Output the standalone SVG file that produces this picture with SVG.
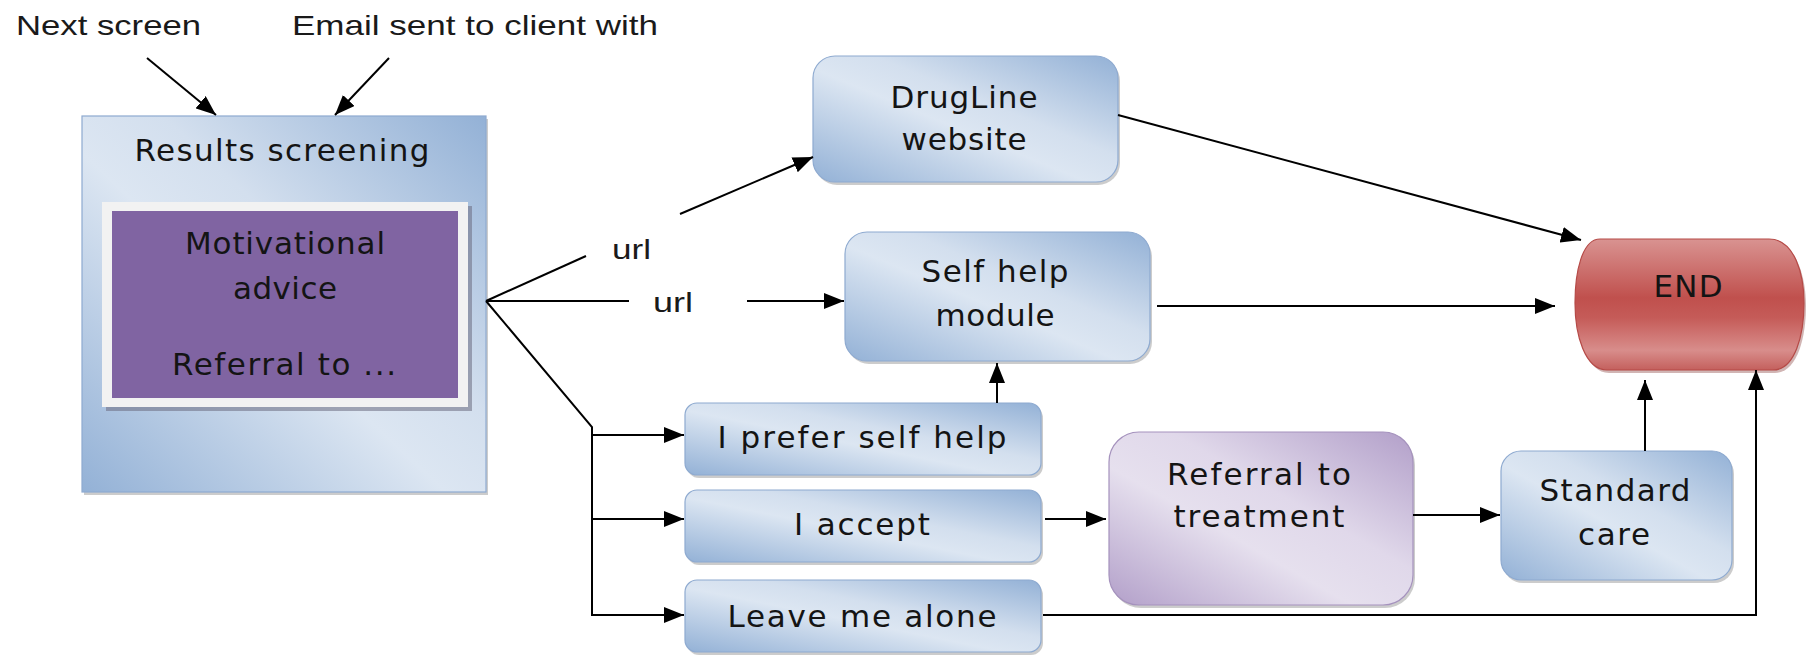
<svg xmlns="http://www.w3.org/2000/svg" width="1810" height="655" viewBox="0 0 1810 655">
<style>
.lbl{font-family:"Liberation Sans",Arial,sans-serif;font-size:28px;fill:#1a1a1a}
.nt{font-family:"DejaVu Sans",Verdana,sans-serif;font-size:31px;fill:#141414;text-anchor:middle}
.box{fill:url(#gBlue);stroke:#8eaad0;stroke-width:1.2}
.shd{fill:#8d8d8d;opacity:.45}
.ln{fill:none;stroke:#000;stroke-width:2}
.arr{fill:none;stroke:#000;stroke-width:2;marker-end:url(#ah)}
</style>
<defs>
<linearGradient id="gBlue" x1="0" y1="1" x2="1" y2="0">
<stop offset="0" stop-color="#93b1d6"/>
<stop offset="0.45" stop-color="#dce6f2"/>
<stop offset="0.6" stop-color="#d3dfee"/>
<stop offset="1" stop-color="#93b1d6"/>
</linearGradient>
<linearGradient id="gPurple" x1="0" y1="1" x2="1" y2="0">
<stop offset="0" stop-color="#b29fc9"/>
<stop offset="0.4" stop-color="#e6e0ee"/>
<stop offset="0.6" stop-color="#e0d8ea"/>
<stop offset="1" stop-color="#b29fc9"/>
</linearGradient>
<linearGradient id="gRed" x1="0" y1="0" x2="0" y2="1">
<stop offset="0" stop-color="#d99391"/>
<stop offset="0.45" stop-color="#c0504d"/>
<stop offset="0.6" stop-color="#c55b58"/>
<stop offset="0.85" stop-color="#d88d8b"/>
<stop offset="1" stop-color="#c4605d"/>
</linearGradient>
<marker id="ah" markerUnits="userSpaceOnUse" markerWidth="20" markerHeight="16" viewBox="0 0 20 16" refX="20" refY="8" orient="auto">
<path d="M0,0 L20,8 L0,16 z" fill="#000"/>
</marker>
</defs>
<rect width="1810" height="655" fill="#fff"/>

<g id="label-next"><text class="lbl" x="16" y="35" textLength="185" lengthAdjust="spacingAndGlyphs">Next screen</text></g>
<g id="label-email"><text class="lbl" x="292" y="35" textLength="366" lengthAdjust="spacingAndGlyphs">Email sent to client with</text></g>

<g id="results">
<rect class="shd" x="84" y="119" width="404" height="376"/>
<rect class="box" x="82" y="116" width="404" height="376"/>
<text class="nt" x="282" y="161" textLength="295" lengthAdjust="spacing">Results screening</text>
<rect x="106" y="206" width="366" height="205" fill="#6b6b80" opacity=".55"/>
<rect x="102" y="202" width="366" height="205" fill="#f2f2f2"/>
<rect x="112" y="211" width="346" height="187" fill="#8064a2"/>
<text class="nt" x="285" y="254" textLength="200" lengthAdjust="spacing">Motivational</text>
<text class="nt" x="285" y="299" textLength="104" lengthAdjust="spacing">advice</text>
<text class="nt" x="284" y="375" textLength="224" lengthAdjust="spacing">Referral to ...</text>
</g>

<g id="drugline">
<rect class="shd" x="815" y="59" width="305" height="126" rx="22"/>
<rect class="box" x="813" y="56" width="305" height="126" rx="22"/>
<text class="nt" x="964" y="108" textLength="147" lengthAdjust="spacing">DrugLine</text>
<text class="nt" x="964" y="150" textLength="125" lengthAdjust="spacing">website</text>
</g>

<g id="selfhelp">
<rect class="shd" x="847" y="235" width="305" height="129" rx="22"/>
<rect class="box" x="845" y="232" width="305" height="129" rx="22"/>
<text class="nt" x="995" y="282" textLength="147" lengthAdjust="spacing">Self help</text>
<text class="nt" x="995" y="326" textLength="119" lengthAdjust="spacing">module</text>
</g>

<g id="end">
<path d="M1602,242 H1771 C1797,242 1806,278 1806,306 C1806,338 1797,373 1775,373 H1609 C1587,373 1577,338 1577,306 C1577,275 1584,242 1602,242 Z" fill="#9a5a58" opacity=".45"/>
<path d="M1600,239 H1769 C1795,239 1804,275 1804,303 C1804,335 1795,370 1773,370 H1607 C1585,370 1575,335 1575,303 C1575,272 1582,239 1600,239 Z" fill="url(#gRed)" stroke="#b54a47" stroke-width="1.2"/>
<text class="nt" x="1688" y="297" font-size="28" textLength="69" lengthAdjust="spacing">END</text>
</g>

<g id="prefer">
<rect class="shd" x="687" y="406" width="356" height="72" rx="12"/>
<rect class="box" x="685" y="403" width="356" height="72" rx="12"/>
<text class="nt" x="862" y="448" textLength="289" lengthAdjust="spacing">I prefer self help</text>
</g>

<g id="accept">
<rect class="shd" x="687" y="493" width="356" height="72" rx="12"/>
<rect class="box" x="685" y="490" width="356" height="72" rx="12"/>
<text class="nt" x="862" y="535" textLength="136" lengthAdjust="spacing">I accept</text>
</g>

<g id="leave">
<rect class="shd" x="687" y="583" width="356" height="72" rx="12"/>
<rect class="box" x="685" y="580" width="356" height="72" rx="12"/>
<text class="nt" x="862" y="627" textLength="269" lengthAdjust="spacing">Leave me alone</text>
</g>

<g id="referral">
<rect class="shd" x="1111" y="435" width="304" height="173" rx="30"/>
<rect x="1109" y="432" width="304" height="173" rx="30" fill="url(#gPurple)" stroke="#a592bd" stroke-width="1.2"/>
<text class="nt" x="1259" y="485" textLength="184" lengthAdjust="spacing">Referral to</text>
<text class="nt" x="1259" y="527" textLength="171" lengthAdjust="spacing">treatment</text>
</g>

<g id="standard">
<rect class="shd" x="1503" y="454" width="231" height="129" rx="20"/>
<rect class="box" x="1501" y="451" width="231" height="129" rx="20"/>
<text class="nt" x="1615" y="501" textLength="151" lengthAdjust="spacing">Standard</text>
<text class="nt" x="1614" y="545" textLength="72" lengthAdjust="spacing">care</text>
</g>

<g id="connectors">
<line class="arr" x1="147" y1="58" x2="216" y2="115"/>
<line class="arr" x1="389" y1="58" x2="335" y2="115"/>
<line class="ln" x1="486" y1="301" x2="586" y2="256"/>
<line class="arr" x1="680" y1="214" x2="813" y2="157"/>
<text class="lbl" x="612" y="259" textLength="39" lengthAdjust="spacingAndGlyphs">url</text>
<line class="ln" x1="486" y1="301" x2="629" y2="301"/>
<line class="arr" x1="747" y1="301" x2="844" y2="301"/>
<text class="lbl" x="653" y="312" textLength="40" lengthAdjust="spacingAndGlyphs">url</text>
<polyline class="ln" points="486,301 592,427 592,616"/>
<line class="arr" x1="592" y1="435" x2="684" y2="435"/>
<line class="arr" x1="592" y1="519" x2="684" y2="519"/>
<line class="arr" x1="592" y1="615" x2="684" y2="615"/>
<line class="arr" x1="997" y1="403" x2="997" y2="363"/>
<line class="arr" x1="1045" y1="519" x2="1106" y2="519"/>
<line class="arr" x1="1413" y1="515" x2="1500" y2="515"/>
<line class="arr" x1="1645" y1="451" x2="1645" y2="380"/>
<polyline class="arr" points="1043,615 1756,615 1756,370"/>
<line class="arr" x1="1118" y1="115" x2="1581" y2="240"/>
<line class="arr" x1="1157" y1="306" x2="1555" y2="306"/>
</g>
</svg>
